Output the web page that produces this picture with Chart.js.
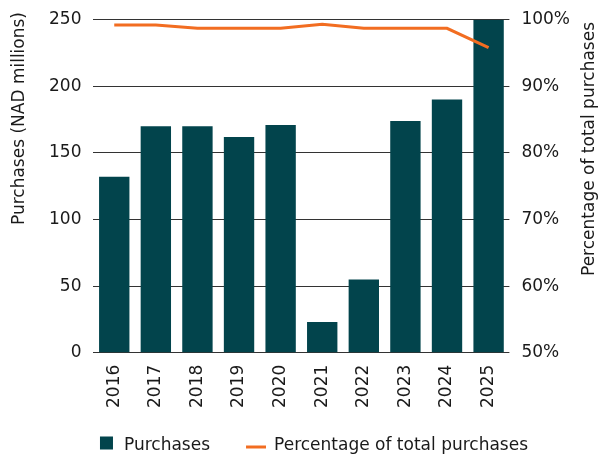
<!DOCTYPE html>
<html>
<head>
<meta charset="utf-8">
<script src="https://cdn.jsdelivr.net/npm/chart.js@4"></script>
<style>
  html, body { margin: 0; padding: 0; background: #fff; }
  #wrap { width: 608px; height: 457px; }
</style>
</head>
<body>
<div id="wrap"><canvas id="chart" width="608" height="457"></canvas></div>
<script>
const years = ['2016', '2017', '2018', '2019', '2020', '2021', '2022', '2023', '2024', '2025'];
const purchases = [132, 170, 170, 162, 171, 23, 55, 174, 190, 250];
const pctOfTotal = [99.2, 99.2, 98.7, 98.7, 98.7, 99.3, 98.7, 98.7, 98.7, 95.8];

const leftTicks = [0, 50, 100, 150, 200, 250];
const rightTicks = [50, 60, 70, 80, 90, 100];

const leftTitle = 'Purchases (NAD millions)';
const rightTitle = 'Percentage of total purchases';

const barColor = '#02444c';
const lineColor = '#f26d21';
const textColor = '#1a1a1a';
const fontFamily = '"DejaVu Sans", sans-serif';
const font = '17px ' + fontFamily;

Chart.defaults.font.family = fontFamily;
Chart.defaults.font.size = 17;
Chart.defaults.color = textColor;

// axis titles read bottom-to-top on both sides, and a legend laid out like the original
const decorations = {
    id: 'decorations',
    afterDraw(chart) {
        const c = chart.ctx;
        c.save();
        c.fillStyle = textColor;
        c.font = font;
        c.textBaseline = 'middle';
        c.textAlign = 'right';

        c.save();
        c.translate(20, 12);
        c.rotate(-Math.PI / 2);
        c.fillText(leftTitle, 0, 0);
        c.restore();

        c.save();
        c.translate(590, 22);
        c.rotate(-Math.PI / 2);
        c.fillText(rightTitle, 0, 0);
        c.restore();

        // legend
        const ds = chart.data.datasets;
        const box = 13, gap = 11, lineLen = 20, itemGap = 36;
        const w1 = c.measureText(ds[0].label).width;
        const w2 = c.measureText(ds[1].label).width;
        const total = box + gap + w1 + itemGap + lineLen + 8 + w2;
        let x = 314 - total / 2;
        const y = 443;
        c.textAlign = 'left';
        c.fillStyle = ds[0].backgroundColor;
        c.fillRect(x, y - box / 2, box, box);
        x += box + gap;
        c.fillStyle = textColor;
        c.fillText(ds[0].label, x, y + 3);
        x += w1 + itemGap;
        c.strokeStyle = ds[1].borderColor;
        c.lineWidth = 3;
        c.beginPath();
        c.moveTo(x, y + 4);
        c.lineTo(x + lineLen, y + 4);
        c.stroke();
        x += lineLen + 8;
        c.fillText(ds[1].label, x, y + 3);
        c.restore();
    }
};

const ctx = document.getElementById('chart').getContext('2d');
new Chart(ctx, {
    type: 'bar',
    data: {
        labels: years,
        datasets: [{
                type: 'bar',
                label: 'Purchases',
                data: purchases,
                backgroundColor: barColor,
                yAxisID: 'y',
                order: 2,
                categoryPercentage: 1,
                barPercentage: 0.73
            },
            {
                type: 'line',
                label: 'Percentage of total purchases',
                data: pctOfTotal,
                borderColor: lineColor,
                backgroundColor: lineColor,
                borderWidth: 3,
                pointRadius: 0,
                yAxisID: 'y1',
                order: 1
            }
        ]
    },
    options: {
        responsive: false,
        animation: false,
        layout: { padding: { top: 2, left: 37, right: 26, bottom: 37 } },
        plugins: {
            legend: { display: false },
            tooltip: { enabled: false }
        },
        scales: {
            x: {
                grid: { display: false, drawTicks: false },
                border: { display: false },
                ticks: { minRotation: 90, maxRotation: 90, padding: 12 }
            },
            y: {
                position: 'left',
                min: 0,
                max: 250,
                afterBuildTicks: (axis) => { axis.ticks = leftTicks.map(v => ({ value: v })); },
                grid: { color: '#333', lineWidth: 1, drawTicks: false },
                border: { display: false },
                ticks: { padding: 12, font: { lineHeight: 0.9 } }
            },
            y1: {
                position: 'right',
                min: 50,
                max: 100,
                afterBuildTicks: (axis) => { axis.ticks = rightTicks.map(v => ({ value: v })); },
                grid: { display: false, drawTicks: false },
                border: { display: false },
                ticks: { padding: 12, font: { lineHeight: 0.9 }, callback: (v) => v + '%' }
            }
        }
    },
    plugins: [decorations]
});
</script>
</body>
</html>
